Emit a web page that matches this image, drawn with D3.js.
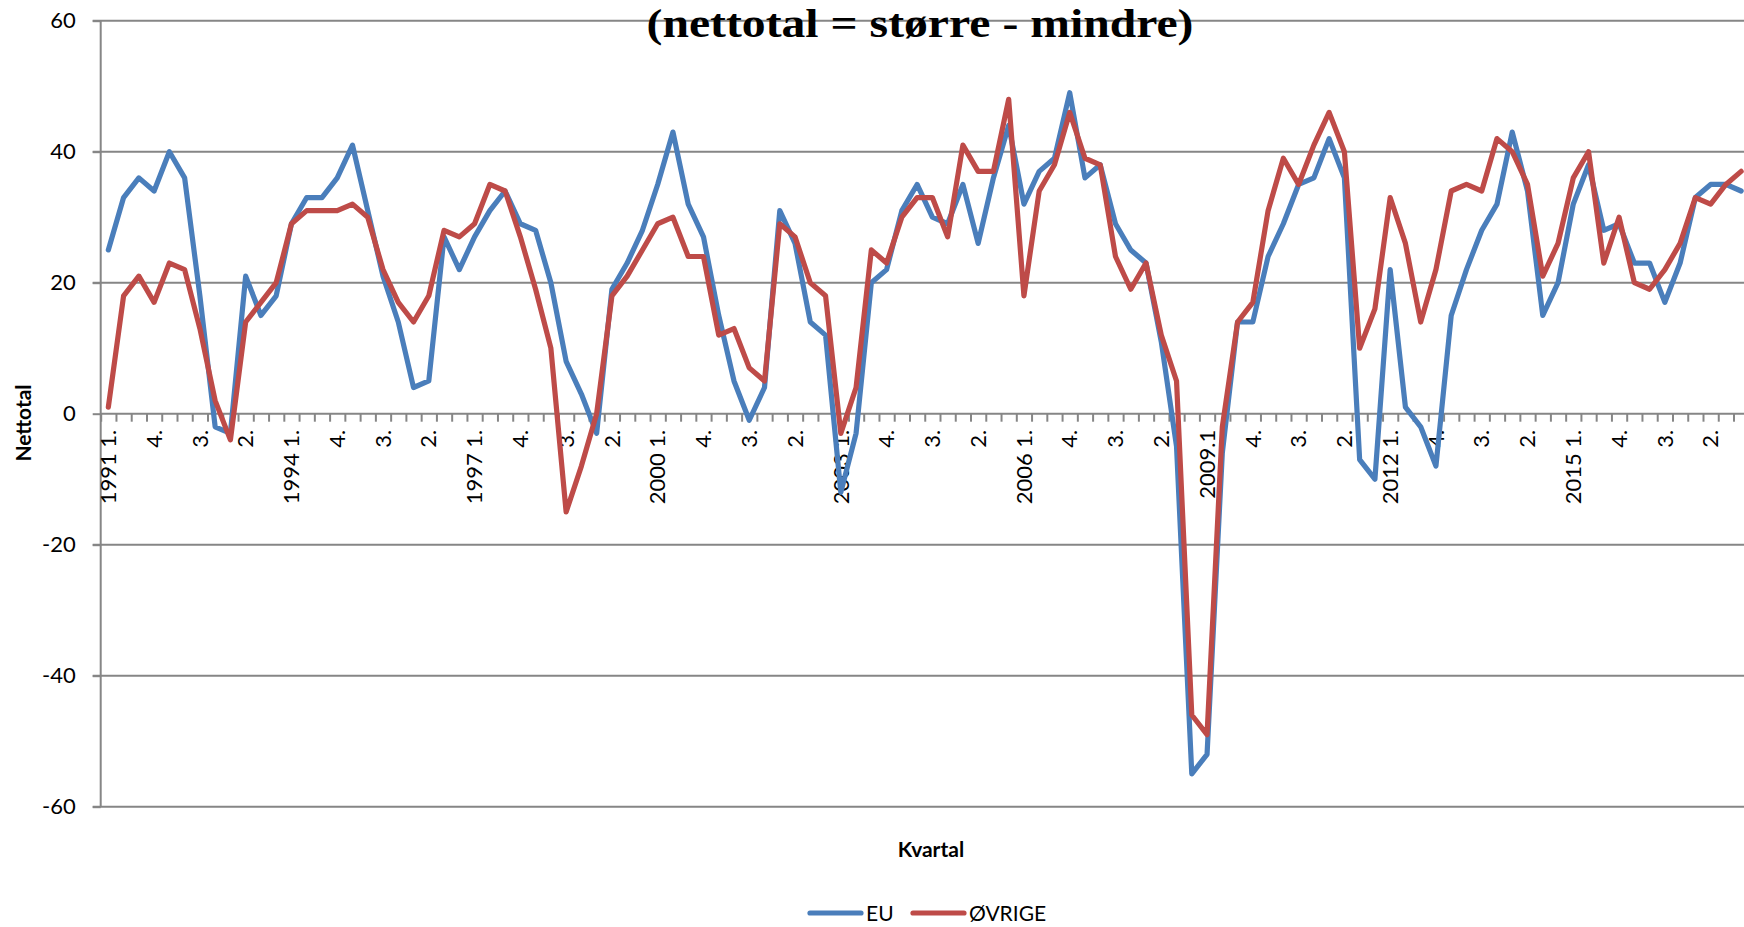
<!DOCTYPE html>
<html>
<head>
<meta charset="utf-8">
<script src="https://cdn.jsdelivr.net/npm/d3@7"></script>
<style>
  body { margin: 0; background: #fff; }
  svg { display: block; }
</style>
</head>
<body>
<svg width="1744" height="927"></svg>
<script>
  // Quarterly net totals (larger - smaller), 1991 Q1 to 2017 Q4
  const firstYear = 1991;
  const lastYear = 2017;

  const euValues = [
    25, 33, 36, 34, 40, 36, 18, -2, -3, 21, 15, 18,
    29, 33, 33, 36, 41, 31, 21, 14, 4, 5, 27, 22,
    27, 31, 34, 29, 28, 20, 8, 3, -3, 19, 23, 28,
    35, 43, 32, 27, 15, 5, -1, 4, 31, 26, 14, 12,
    -12, -3, 20, 22, 31, 35, 30, 29, 35, 26, 36, 44,
    32, 37, 39, 49, 36, 38, 29, 25, 23, 11, -5, -55,
    -52, -6, 14, 14, 24, 29, 35, 36, 42, 36, -7, -10,
    22, 1, -2, -8, 15, 22, 28, 32, 43, 34, 15, 20,
    32, 38, 28, 29, 23, 23, 17, 23, 33, 35, 35, 34
  ];

  const ovrigeValues = [
    1, 18, 21, 17, 23, 22, 13, 2, -4, 14, 17, 20,
    29, 31, 31, 31, 32, 30, 22, 17, 14, 18, 28, 27,
    29, 35, 34, 27, 19, 10, -15, -8, 0, 18, 21, 25,
    29, 30, 24, 24, 12, 13, 7, 5, 29, 27, 20, 18,
    -3, 4, 25, 23, 30, 33, 33, 27, 41, 37, 37, 48,
    18, 34, 38, 46, 39, 38, 24, 19, 23, 12, 5, -46,
    -49, -2, 14, 17, 31, 39, 35, 41, 46, 40, 10, 16,
    33, 26, 14, 22, 34, 35, 34, 42, 40, 35, 21, 26,
    36, 40, 23, 30, 20, 19, 22, 26, 33, 32, 35, 37
  ];

  const seriesNames = ['EU', 'ØVRIGE'];
  const seriesColors = ['#4a7ebb', '#be4b48'];
  const yTicks = [-60, -40, -20, 0, 20, 40, 60];

  // category labels: "1991 1.", "2.", "3.", "4.", ... (2009 is written "2009.1")
  const categories = [];
  for (let yr = firstYear; yr <= lastYear; yr++) {
    for (let q = 1; q <= 4; q++) {
      if (q === 1) categories.push(yr === 2009 ? '2009.1' : yr + ' 1.');
      else categories.push(yr + '|' + q + '.');
    }
  }
  const shortLabel = c => c.includes('|') ? c.split('|')[1] : c;

  const svg = d3.select('svg');
  const width = +svg.attr('width');
  const axisColor = '#868686';
  const fontFam = 'Lato, "Noto Sans", sans-serif';
  const lineW = 5.2;

  const plotLeft = 100.7;
  const bandW = 15.26;
  const x = d3.scaleBand()
    .domain(categories)
    .range([plotLeft, plotLeft + bandW * categories.length])
    .padding(0);
  const xEdge = d3.scaleLinear()
    .domain([0, categories.length])
    .range(x.range());
  const y = d3.scaleLinear().domain([-60, 60]).range([806.7, 20.7]);

  // grid lines
  svg.append('g')
    .selectAll('line')
    .data(yTicks.filter(d => d !== 0))
    .join('line')
    .attr('x1', plotLeft - 8).attr('x2', width)
    .attr('y1', d => y(d)).attr('y2', d => y(d))
    .attr('stroke', axisColor).attr('stroke-width', 2);

  // value axis
  const yAxis = svg.append('g')
    .attr('transform', `translate(${plotLeft},0)`)
    .call(d3.axisLeft(y).tickValues(yTicks).tickSize(8).tickPadding(17)
      .tickFormat(d => String(d)));
  yAxis.select('.domain').remove();
  yAxis.selectAll('line').attr('stroke', axisColor).attr('stroke-width', 2);
  yAxis.selectAll('text')
    .attr('font-family', fontFam).attr('font-size', 22).attr('fill', '#000');
  svg.append('line')
    .attr('x1', plotLeft).attr('x2', plotLeft)
    .attr('y1', y(60)).attr('y2', y(-60))
    .attr('stroke', axisColor).attr('stroke-width', 2);

  // category axis at zero, tick marks between quarters
  const xAxis = svg.append('g')
    .attr('transform', `translate(0,${y(0)})`)
    .call(d3.axisBottom(xEdge).tickValues(d3.range(0, categories.length + 1))
      .tickSize(8).tickFormat(''));
  xAxis.select('.domain').remove();
  xAxis.selectAll('line').attr('stroke', axisColor).attr('stroke-width', 2);
  svg.append('line')
    .attr('x1', plotLeft).attr('x2', width)
    .attr('y1', y(0)).attr('y2', y(0))
    .attr('stroke', axisColor).attr('stroke-width', 2);

  svg.append('g')
    .selectAll('text')
    .data(categories.filter((c, i) => i % 3 === 0))
    .join('text')
    .attr('transform', c => `translate(${x(c) + x.bandwidth() / 2},${y(0) + 16}) rotate(-90)`)
    .attr('text-anchor', 'end')
    .attr('dy', '0.35em')
    .attr('font-family', fontFam).attr('font-size', 22)
    .text(shortLabel);

  // series lines
  const line = d3.line()
    .x((d, i) => x(categories[i]) + x.bandwidth() / 2)
    .y(d => y(d));

  [euValues, ovrigeValues].forEach((vals, k) => {
    svg.append('path')
      .datum(vals)
      .attr('d', line)
      .attr('fill', 'none')
      .attr('stroke', seriesColors[k])
      .attr('stroke-width', lineW)
      .attr('stroke-linejoin', 'round')
      .attr('stroke-linecap', 'round');
  });

  // title (second line of it, first line falls outside the picture)
  svg.append('text')
    .attr('x', 920).attr('y', 37)
    .attr('text-anchor', 'middle')
    .attr('font-family', '"Liberation Serif", serif')
    .attr('font-weight', 'bold').attr('font-size', 40)
    .attr('textLength', 547).attr('lengthAdjust', 'spacingAndGlyphs')
    .text('(nettotal = større - mindre)');

  // axis titles
  svg.append('text')
    .attr('transform', 'translate(24,423) rotate(-90)')
    .attr('text-anchor', 'middle').attr('dy', '0.35em')
    .attr('font-family', fontFam).attr('font-weight', 'bold').attr('font-size', 21)
    .text('Nettotal');

  svg.append('text')
    .attr('x', 931).attr('y', 857)
    .attr('text-anchor', 'middle')
    .attr('font-family', fontFam).attr('font-weight', 'bold').attr('font-size', 21)
    .text('Kvartal');

  // legend
  const legendX = [808, 911];
  const legend = svg.append('g')
    .selectAll('g')
    .data(seriesNames)
    .join('g')
    .attr('transform', (d, i) => `translate(${legendX[i]},913)`);
  legend.append('line')
    .attr('x1', 2).attr('x2', 53)
    .attr('stroke', (d, i) => seriesColors[i])
    .attr('stroke-width', lineW).attr('stroke-linecap', 'round');
  legend.append('text')
    .attr('x', 58).attr('y', 8)
    .attr('font-family', fontFam).attr('font-size', 21)
    .text(d => d);
</script>
</body>
</html>
